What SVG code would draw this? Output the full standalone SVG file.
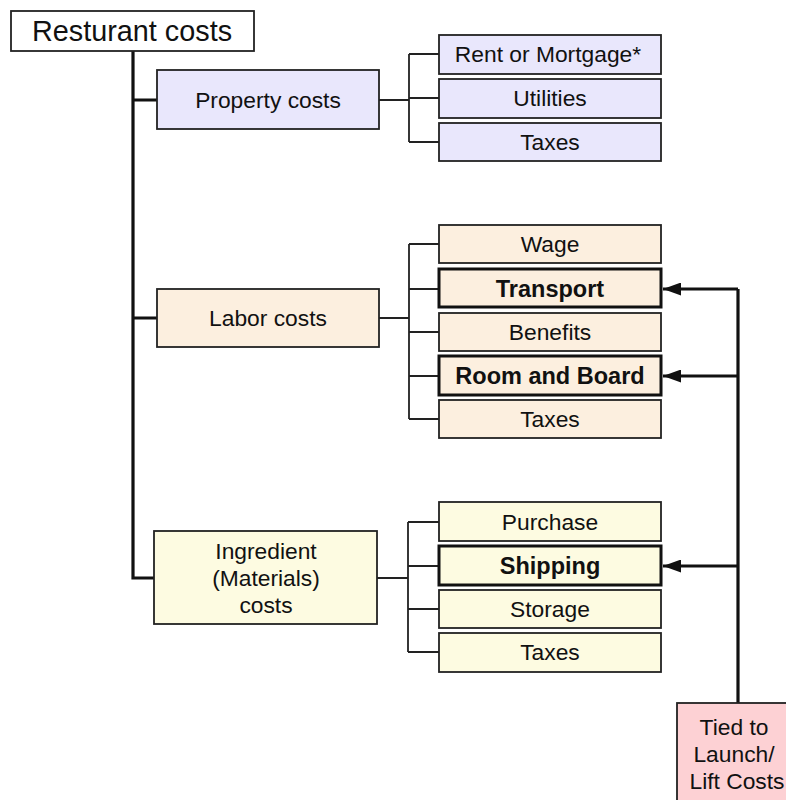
<svg xmlns="http://www.w3.org/2000/svg" width="786" height="800" viewBox="0 0 786 800">
<style>
text{font-family:"Liberation Sans",Arial,sans-serif;fill:#111;text-anchor:middle;}
.box{stroke:#222;stroke-width:1.8;}
.bold{stroke:#111;stroke-width:3;}
.p{fill:#e9e7fc;}
.l{fill:#fcefdf;}
.i{fill:#fdfbe1;}
.t{font-size:22.8px;}
.b{font-size:23.5px;font-weight:bold;}
.thin{stroke:#222;stroke-width:1.8;fill:none;}
.thick{stroke:#111;stroke-width:3.2;fill:none;}
</style>
<defs>
<marker id="arr" viewBox="0 0 10 10" refX="10" refY="5" markerWidth="18" markerHeight="13" markerUnits="userSpaceOnUse" orient="auto" preserveAspectRatio="none">
<path d="M0,0 L10,5 L0,10 z" fill="#111"/>
</marker>
</defs>
<rect width="786" height="800" fill="#fff"/>
<g id="connectors">
<path class="thick" d="M133,51 V578 H155 M133,100 H158 M133,318 H158"/>
<path class="thin" d="M379,100 H409 M409,54 V142 M409,54 H439 M409,98 H439 M409,142 H439"/>
<path class="thin" d="M379,318 H409 M409,244 V419 M409,244 H439 M409,289 H439 M409,332 H439 M409,376 H439 M409,419 H439"/>
<path class="thin" d="M377,578 H408 M408,522 V652 M408,522 H439 M408,566 H439 M408,609 H439 M408,652 H439"/>
<path class="thick" d="M738,703 V289"/>
<path class="thick" d="M738,289 H663" marker-end="url(#arr)"/>
<path class="thick" d="M738,376 H663" marker-end="url(#arr)"/>
<path class="thick" d="M738,566 H663" marker-end="url(#arr)"/>
</g>
<g id="root"><rect class="box" x="11" y="11" width="243" height="40" fill="#fff"/><text x="132" y="41" style="font-size:28.8px">Resturant costs</text></g>
<g id="property"><rect class="box p" x="157" y="70" width="222" height="59"/><text class="t" x="268" y="108">Property costs</text></g>
<g id="labor"><rect class="box l" x="157" y="289" width="222" height="58"/><text class="t" x="268" y="326">Labor costs</text></g>
<g id="ingredient"><rect class="box i" x="154" y="531" width="223" height="93"/><text class="t" x="266" y="559">Ingredient</text><text class="t" x="266" y="586">(Materials)</text><text class="t" x="266" y="613">costs</text></g>
<g id="rent"><rect class="box p" x="439" y="35" width="222" height="39"/><text class="t" x="548" y="62">Rent or Mortgage*</text></g>
<g id="utilities"><rect class="box p" x="439" y="79" width="222" height="39"/><text class="t" x="550" y="106">Utilities</text></g>
<g id="ptaxes"><rect class="box p" x="439" y="123" width="222" height="38"/><text class="t" x="550" y="150">Taxes</text></g>
<g id="wage"><rect class="box l" x="439" y="225" width="222" height="38"/><text class="t" x="550" y="252">Wage</text></g>
<g id="transport"><rect class="bold l" x="439" y="269" width="222" height="38"/><text class="b" x="550" y="297">Transport</text></g>
<g id="benefits"><rect class="box l" x="439" y="313" width="222" height="38"/><text class="t" x="550" y="340">Benefits</text></g>
<g id="room"><rect class="bold l" x="439" y="356" width="222" height="39"/><text class="b" x="550" y="384">Room and Board</text></g>
<g id="ltaxes"><rect class="box l" x="439" y="400" width="222" height="38"/><text class="t" x="550" y="427">Taxes</text></g>
<g id="purchase"><rect class="box i" x="439" y="502" width="222" height="39"/><text class="t" x="550" y="530">Purchase</text></g>
<g id="shipping"><rect class="bold i" x="439" y="546" width="222" height="39"/><text class="b" x="550" y="574">Shipping</text></g>
<g id="storage"><rect class="box i" x="439" y="590" width="222" height="38"/><text class="t" x="550" y="617">Storage</text></g>
<g id="itaxes"><rect class="box i" x="439" y="633" width="222" height="39"/><text class="t" x="550" y="660">Taxes</text></g>
<g id="tied"><rect class="box" x="677" y="703" width="120" height="110" fill="#fdd1d4"/><text class="t" x="734" y="735">Tied to</text><text class="t" x="734" y="762">Launch/</text><text class="t" x="737" y="789">Lift Costs</text></g>
</svg>
